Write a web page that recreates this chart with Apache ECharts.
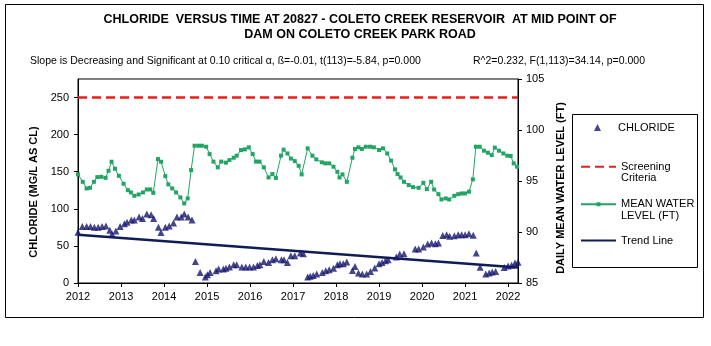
<!DOCTYPE html>
<html>
<head>
<meta charset="utf-8">
<script src="https://cdn.jsdelivr.net/npm/echarts@6/dist/echarts.min.js"></script>
<style>html,body{margin:0;padding:0;background:#fff;}#c{width:711px;height:346px;}</style>
</head>
<body>
<div id="c"></div>
<script>
// ---------- DATA ----------
const titleLine1 = 'CHLORIDE  VERSUS TIME AT 20827 - COLETO CREEK RESERVOIR  AT MID POINT OF';
const titleLine2 = 'DAM ON COLETO CREEK PARK ROAD';
const statLeft = 'Slope is Decreasing and Significant at 0.10 critical \u03b1, \u00df=-0.01, t(113)=-5.84, p=0.000';
const statRight = 'R^2=0.232, F(1,113)=34.14, p=0.000';

const xRange = [2012.0, 2022.23];
const xTicks = [2012, 2013, 2014, 2015, 2016, 2017, 2018, 2019, 2020, 2021, 2022];
const leftTicks = [0, 50, 100, 150, 200, 250];
const leftRange = [0, 275];
const rightTicks = [85, 90, 95, 100, 105];
const rightRange = [85, 105];

const chlorideDates = [2012.00, 2012.10, 2012.20, 2012.29, 2012.38, 2012.47, 2012.56, 2012.65, 2012.74, 2012.79,
  2012.88, 2012.98, 2013.08, 2013.14, 2013.24, 2013.31, 2013.42, 2013.50, 2013.60, 2013.70,
  2013.76, 2013.87, 2013.93, 2014.03, 2014.12, 2014.22, 2014.30, 2014.40, 2014.47, 2014.56,
  2014.65, 2014.73, 2014.84, 2014.96, 2015.01, 2015.07, 2015.21, 2015.27, 2015.38, 2015.44,
  2015.52, 2015.62, 2015.69, 2015.81, 2015.90, 2015.99, 2016.08, 2016.17, 2016.23, 2016.32,
  2016.43, 2016.52, 2016.60, 2016.73, 2016.79, 2016.87, 2016.95, 2017.04, 2017.17, 2017.24,
  2017.34, 2017.40, 2017.47, 2017.55, 2017.68, 2017.76, 2017.84, 2017.94, 2018.03, 2018.09,
  2018.17, 2018.25, 2018.38, 2018.44, 2018.52, 2018.61, 2018.71, 2018.80, 2018.90, 2019.00,
  2019.07, 2019.15, 2019.21, 2019.40, 2019.48, 2019.58, 2019.84, 2019.92, 2020.03, 2020.13,
  2020.22, 2020.31, 2020.38, 2020.48, 2020.57, 2020.64, 2020.75, 2020.84, 2020.92, 2021.00,
  2021.09, 2021.19, 2021.26, 2021.35, 2021.48, 2021.56, 2021.63, 2021.71, 2021.91, 2022.00,
  2022.08, 2022.16, 2022.23];
const chlorideValues = [68.5, 76, 76, 76, 75, 75, 76, 77, 71, 66,
  70, 76, 80, 82, 85, 85, 89, 87, 93, 92,
  87, 75, 68, 75, 77, 81, 89, 89, 93, 89,
  85, 29, 14, 8, 11, 14, 16.5, 19, 19, 20,
  21.5, 24.6, 24.6, 21.5, 21.5, 21.5, 21.5, 23.7, 24.6, 29,
  27.7, 31.3, 32.7, 31.3, 31.3, 27.7, 36.7, 36.7, 40.3, 39.4,
  8, 9, 10, 12, 14.3, 16.5, 18, 20, 24.6, 26,
  26, 28.2, 17, 22.3, 13.4, 12.1, 12.1, 15.6, 20.2, 25.9,
  27.7, 30, 31.3, 35, 39, 39.4, 45.7, 45.7, 48.4, 52.6,
  53.8, 52.8, 53.8, 64, 64.9, 63, 63.6, 64.9, 64.9, 64.9,
  66.3, 64.5, 40.3, 21.3, 12.1, 13.4, 14.8, 15.6, 21, 22.8,
  24, 26.9, 28];

const levelDates = [2012.00, 2012.11, 2012.20, 2012.28, 2012.37, 2012.45, 2012.54, 2012.64, 2012.71, 2012.78,
  2012.86, 2012.95, 2013.06, 2013.16, 2013.23, 2013.31, 2013.41, 2013.51, 2013.60, 2013.68,
  2013.75, 2013.86, 2013.93, 2014.03, 2014.10, 2014.19, 2014.28, 2014.38, 2014.47, 2014.55,
  2014.63, 2014.71, 2014.80, 2014.88, 2014.98, 2015.06, 2015.15, 2015.25, 2015.33, 2015.44,
  2015.52, 2015.62, 2015.69, 2015.79, 2015.88, 2015.97, 2016.06, 2016.14, 2016.22, 2016.32,
  2016.43, 2016.52, 2016.60, 2016.72, 2016.78, 2016.87, 2016.95, 2017.04, 2017.13, 2017.20,
  2017.34, 2017.45, 2017.54, 2017.67, 2017.75, 2017.84, 2017.94, 2018.03, 2018.08, 2018.15,
  2018.25, 2018.38, 2018.44, 2018.52, 2018.60, 2018.69, 2018.79, 2018.88, 2019.00, 2019.09,
  2019.19, 2019.28, 2019.37, 2019.43, 2019.50, 2019.58, 2019.69, 2019.79, 2019.92, 2020.03,
  2020.11, 2020.21, 2020.28, 2020.38, 2020.45, 2020.55, 2020.63, 2020.75, 2020.84, 2020.92,
  2021.00, 2021.09, 2021.18, 2021.25, 2021.34, 2021.44, 2021.53, 2021.62, 2021.69, 2021.79,
  2021.89, 2021.98, 2022.06, 2022.13, 2022.21];
const levelValues = [95.65, 94.92, 94.27, 94.33, 94.92, 95.38, 95.41, 95.31, 96.0, 96.89,
  96.2, 95.51, 94.73, 94.1, 93.88, 93.55, 93.68, 93.88, 94.17, 94.17,
  93.84, 97.15, 96.89, 95.48, 94.67, 94.27, 93.88, 93.39, 92.8, 93.29,
  96.07, 98.46, 98.46, 98.46, 98.36, 97.64, 96.9, 96.34, 96.9, 96.8,
  97.05, 97.28, 97.48, 98.03, 98.1, 98.3, 97.64, 96.9, 96.9, 96.34,
  95.35, 95.68, 95.3, 97.48, 98.07, 97.7, 97.2, 96.95, 96.49, 95.65,
  98.2, 97.48, 97.12, 96.83, 96.73, 96.73, 96.4, 95.9, 95.35, 95.65,
  94.92, 97.28, 98.14, 98.3, 98.14, 98.36, 98.36, 98.3, 98.04, 98.2,
  97.7, 97.0, 96.14, 95.68, 95.35, 94.92, 94.6, 94.4, 94.33, 94.82,
  94.2, 94.92, 94.17, 93.71, 93.19, 93.29, 93.19, 93.55, 93.71, 93.78,
  93.78, 93.95, 95.16, 98.36, 98.36, 97.97, 97.77, 97.54, 98.27, 97.97,
  97.7, 97.48, 97.45, 96.73, 96.4];

const screeningValue = 250;
const trendDates = [2012.0, 2022.23];
const trendValues = [65, 21];

const seriesNames = ['CHLORIDE', 'Screening Criteria', 'MEAN WATER LEVEL (FT)', 'Trend Line'];
// leading newline keeps the first text line level with the legend symbol
const legendLabels = ['CHLORIDE', '\nScreening\nCriteria', '\nMEAN WATER\nLEVEL (FT)', 'Trend Line'];
// ---------------------------

const FONT = 'Liberation Sans, Arial, sans-serif';
const zip = (a, b) => a.map((v, i) => [v, b[i]]);
const labelOf = name => legendLabels[seriesNames.indexOf(name)];

const chart = echarts.init(document.getElementById('c'), null, { renderer: 'canvas' });

const legendBase = {
  orient: 'vertical', padding: 0, itemWidth: 35, selectedMode: false,
  formatter: labelOf,
  textStyle: { fontFamily: FONT, fontSize: 11, color: '#000' }
};
const threeLine = { fontFamily: FONT, fontSize: 11, color: '#000', lineHeight: 11.5 };

chart.setOption({
  animation: false,
  backgroundColor: '#fff',
  title: [
    { text: titleLine1 + '\n' + titleLine2, left: 355, top: 7, textAlign: 'center',
      textStyle: { fontFamily: FONT, fontSize: 12.5, fontWeight: 'bold', color: '#000', lineHeight: 15 } },
    { text: statLeft, left: 30, top: 56, padding: 0,
      textStyle: { fontFamily: FONT, fontSize: 10.5, fontWeight: 'normal', color: '#000' } },
    { text: statRight, left: 473, top: 56, padding: 0,
      textStyle: { fontFamily: FONT, fontSize: 10.5, fontWeight: 'normal', color: '#000' } }
  ],
  graphic: [
    { type: 'rect', shape: { x: 5.5, y: 4.5, width: 698, height: 313 }, style: { fill: 'none', stroke: '#000', lineWidth: 1 }, z: 0 },
    { type: 'rect', shape: { x: 572.5, y: 114.5, width: 125, height: 153 }, style: { fill: '#fff', stroke: '#000', lineWidth: 1 }, z: 0 }
  ],
  legend: [
    Object.assign({}, legendBase, { data: [seriesNames[0]], left: 594, top: 122, itemWidth: 7, itemHeight: 7, icon: 'triangle',
      textStyle: { fontFamily: FONT, fontSize: 11, color: '#000', padding: [0, 0, 0, 12] } }),
    Object.assign({}, legendBase, { data: [seriesNames[1]], left: 580, top: 149.5, itemHeight: 14, textStyle: threeLine,
      itemStyle: { opacity: 0 } }),
    Object.assign({}, legendBase, { data: [seriesNames[2]], left: 580, top: 187, itemHeight: 5, textStyle: threeLine }),
    Object.assign({}, legendBase, { data: [seriesNames[3]], left: 580, top: 235, itemHeight: 14, itemStyle: { opacity: 0 } })
  ],
  grid: { left: 78, right: 193, top: 79, bottom: 63, show: true, borderColor: '#000', borderWidth: 1, backgroundColor: 'transparent' },
  xAxis: {
    type: 'value', min: xRange[0], max: xRange[1], interval: 1,
    axisLine: { lineStyle: { color: '#000', width: 1 } },
    axisTick: { show: true, length: 4, lineStyle: { color: '#000' }, customValues: xTicks },
    axisLabel: { color: '#000', fontFamily: FONT, fontSize: 11, margin: 8, customValues: xTicks, formatter: v => String(v) },
    splitLine: { show: false }
  },
  yAxis: [
    {
      type: 'value', min: leftRange[0], max: leftRange[1], position: 'left',
      name: 'CHLORIDE (MG/L AS CL)', nameLocation: 'middle', nameGap: 38,
      nameTextStyle: { fontFamily: FONT, fontSize: 11, fontWeight: 'bold', color: '#000', padding: [0, 22, 0, 0] },
      axisLine: { show: true, lineStyle: { color: '#000', width: 1 } },
      axisTick: { show: true, length: 4, lineStyle: { color: '#000' }, customValues: leftTicks },
      axisLabel: { color: '#000', fontFamily: FONT, fontSize: 11, margin: 9, customValues: leftTicks },
      splitLine: { show: false }
    },
    {
      type: 'value', min: rightRange[0], max: rightRange[1], interval: 5, position: 'right',
      name: 'DAILY MEAN WATER LEVEL (FT)', nameLocation: 'middle', nameGap: 35,
      nameTextStyle: { fontFamily: FONT, fontSize: 11, fontWeight: 'bold', color: '#000', padding: [0, 14, 0, 0] },
      axisLine: { show: true, lineStyle: { color: '#000', width: 1 } },
      axisTick: { show: true, length: 4, lineStyle: { color: '#000' }, customValues: rightTicks },
      axisLabel: { color: '#000', fontFamily: FONT, fontSize: 11, margin: 8, customValues: rightTicks },
      splitLine: { show: false }
    }
  ],
  series: [
    {
      name: seriesNames[1], type: 'line', yAxisIndex: 0, symbol: 'none', z: 2,
      data: [[xRange[0], screeningValue], [xRange[1], screeningValue]],
      lineStyle: { color: '#e3211c', width: 2.5, type: [9, 5] }, itemStyle: { color: '#e3211c' }
    },
    {
      name: seriesNames[2], type: 'line', yAxisIndex: 1, symbol: 'rect', symbolSize: 4, showSymbol: true, z: 3,
      data: zip(levelDates, levelValues),
      lineStyle: { color: '#22a564', width: 1 }, itemStyle: { color: '#22a564' }
    },
    {
      name: seriesNames[3], type: 'line', yAxisIndex: 0, symbol: 'none', z: 4,
      data: zip(trendDates, trendValues),
      lineStyle: { color: '#101c55', width: 2.5 }, itemStyle: { color: '#101c55' }
    },
    {
      name: seriesNames[0], type: 'scatter', yAxisIndex: 0, symbol: 'triangle', symbolSize: 7, z: 5,
      data: zip(chlorideDates, chlorideValues),
      itemStyle: { color: '#16166e' }
    }
  ]
});
</script>
</body>
</html>
